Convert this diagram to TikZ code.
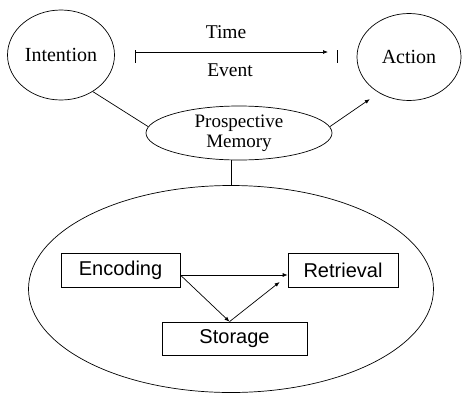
\documentclass[tikz,border=0pt]{standalone}
\usepackage{fontspec}
\setmainfont{Liberation Serif}
\setsansfont{Liberation Sans}
\usetikzlibrary{shapes.geometric,arrows.meta}
\begin{document}
\begin{tikzpicture}[x=1pt,y=-1pt,
  every path/.style={line width=0.7pt},
  oval/.style={draw,ellipse,inner sep=0pt,font=\fontsize{20}{22}\selectfont,align=center},
  procbox/.style={draw,rectangle,inner sep=0pt,font=\sffamily\fontsize{20}{22}\selectfont},
  lbl/.style={inner sep=0pt,font=\fontsize{19.5}{21}\selectfont},
  arr/.style={-{Latex[length=5pt,width=4pt]}}]
\useasboundingbox (0,0) rectangle (462,394);
\node[oval,minimum width=107pt,minimum height=90pt] (int) at (61,55) {Intention};
\node[oval,minimum width=104pt,minimum height=87pt] (act) at (409,57) {Action};
\node[lbl] (time) at (226,32) {Time};
\node[lbl] (event) at (230,70) {Event};
\coordinate (ts) at (135,52);
\coordinate (te) at (328,52);
\coordinate (tb) at (337,52);
\draw[arr] (ts) -- (te);
\draw ([yshift=2pt]ts) -- ([yshift=-11pt]ts);
\draw ([yshift=2pt]tb) -- ([yshift=-11pt]tb);
\node[oval,minimum width=186pt,minimum height=54pt,font=\fontsize{19}{20}\selectfont] (pm) at (239,133) {Prospective\\Memory};
\draw (int.-49) -- (pm.176);
\draw[arr,shorten >=11pt] (pm.4) -- (act.230);
\node[draw,ellipse,minimum width=405pt,minimum height=207pt] (big) at (231,289) {};
\draw (big.north) -- (big.north |- pm.south);
\node[procbox,minimum width=119pt,minimum height=34pt] (enc) at (120.5,270) {Encoding};
\node[procbox,minimum width=110pt,minimum height=34pt] (ret) at (343,270) {Retrieval};
\node[procbox,minimum width=145pt,minimum height=33pt] (sto) at (234.5,338.5) {Storage};
\draw[arr] ([yshift=-5pt]enc.east) -- ([yshift=-5pt]ret.west);
\draw[arr] ([yshift=-5pt]enc.east) -- ([xshift=-5pt]sto.north);
\draw[arr] ([xshift=-5pt]sto.north) -- ([xshift=-8pt,yshift=-12pt]ret.west);
\end{tikzpicture}
\end{document}
